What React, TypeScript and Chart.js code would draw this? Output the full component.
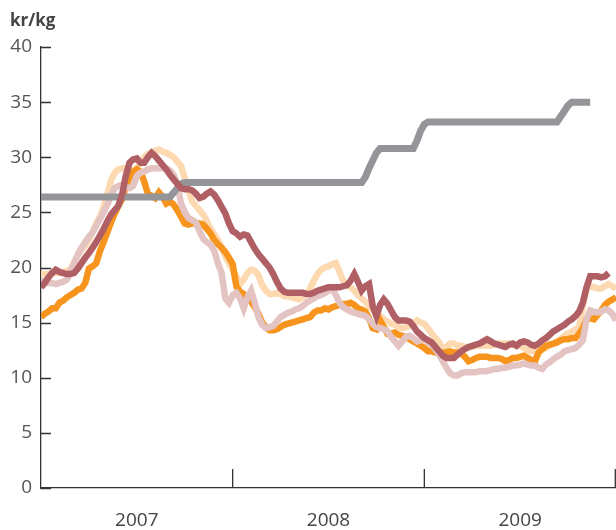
import React, { useEffect, useRef } from "react";
import { Chart, registerables } from "chart.js";

Chart.register(...registerables);

const unitLabel = "kr/kg";
const yearLabels = ["2007", "2008", "2009"];
const yearMidWeeks = [26, 78, 130];
const yearEndWeeks = [52, 104, 156];
const yTickValues = [0, 5, 10, 15, 20, 25, 30, 35, 40];
const weeks = Array.from({ length: 157 }, (_, i) => i);

const darkRed = [
  18.2, 18.6, 19.1, 19.5, 19.8, 19.6, 19.5, 19.4, 19.4, 19.5,
  19.9, 20.4, 20.9, 21.3, 21.8, 22.3, 22.9, 23.5, 24.2, 24.8,
  25.2, 25.6, 26.6, 28.3, 29.5, 29.8, 29.9, 29.5, 29.5, 30.0,
  30.4, 30.1, 29.7, 29.3, 28.9, 28.4, 28.0, 27.6, 27.2, 27.1,
  27.1, 27.0, 26.7, 26.3, 26.4, 26.7, 26.9, 26.6, 26.1, 25.5,
  24.9, 24.0, 23.3, 23.1, 22.8, 23.0, 22.9, 22.3, 21.7, 21.2,
  20.8, 20.4, 20.0, 19.4, 18.7, 18.1, 17.8, 17.7, 17.7, 17.7,
  17.7, 17.7, 17.6, 17.6, 17.7, 17.9, 18.0, 18.1, 18.2, 18.2,
  18.2, 18.2, 18.3, 18.4, 18.8, 19.4, 18.7, 17.9, 18.3, 18.5,
  16.5, 15.6, 16.6, 17.1, 16.7, 16.1, 15.5, 15.2, 15.2, 15.2,
  15.1, 14.7, 14.2, 13.9, 13.6, 13.4, 13.2, 12.8, 12.4, 12.0,
  11.8, 11.8, 11.8, 12.1, 12.4, 12.6, 12.8, 12.9, 13.0, 13.1,
  13.3, 13.5, 13.3, 13.1, 13.0, 12.9, 12.8, 13.0, 13.1, 12.9,
  13.2, 13.3, 13.2, 13.0, 12.9, 13.1, 13.4, 13.6, 13.9, 14.2,
  14.4, 14.6, 14.8, 15.1, 15.3, 15.6, 16.0, 16.8, 18.2, 19.2,
  19.2, 19.2, 19.1, 19.2, 19.5, null, null,
];

const orange = [
  15.5, 15.8, 16.0, 16.3, 16.3, 16.8, 17.0, 17.3, 17.5, 17.7,
  18.0, 18.1, 18.6, 19.9, 20.1, 20.4, 21.5, 22.3, 23.2, 24.1,
  24.9, 25.6, 26.2, 27.3, 28.2, 28.7, 28.9, 28.7, 27.8, 26.7,
  26.5, 26.3, 26.8, 26.4, 25.8, 26.0, 25.7, 25.2, 24.6, 24.0,
  23.9, 24.0, 24.0, 24.0, 23.9, 23.5, 23.1, 22.5, 22.1, 21.8,
  21.4, 20.9, 20.3, 18.3, 17.8, 17.6, 17.2, 16.9, 16.4, 15.8,
  15.0, 14.6, 14.3, 14.3, 14.4, 14.6, 14.8, 14.9, 15.0, 15.1,
  15.2, 15.3, 15.4, 15.5, 15.9, 16.1, 16.1, 16.3, 16.2, 16.4,
  16.5, 16.6, 16.7, 16.7, 16.8, 16.6, 16.3, 16.2, 16.0, 15.4,
  14.5, 14.4, 15.2, 14.6, 14.0, 14.0, 14.1, 13.9, 13.8, 13.7,
  13.5, 13.3, 13.1, 12.9, 12.7, 12.4, 12.4, 12.3, 12.3, 12.3,
  12.3, 12.4, 12.3, 12.3, 12.2, 11.9, 11.5, 11.6, 11.8, 11.9,
  11.9, 11.9, 11.8, 11.8, 11.8, 11.7, 11.5, 11.6, 11.8, 11.8,
  11.9, 12.0, 11.8, 11.6, 11.5, 12.3, 12.6, 12.9, 13.0, 13.1,
  13.2, 13.4, 13.5, 13.5, 13.6, 13.6, 14.0, 14.5, 15.3, 15.4,
  15.3, 15.7, 16.1, 16.6, 16.9, 17.1, 17.3,
];

const peach = [
  19.4, 19.4, 19.4, 19.5, 19.5, 19.5, 19.6, 19.7, 19.8, 20.5,
  21.1, 21.6, 22.0, 22.5, 23.2, 24.0, 24.6, 25.5, 26.7, 27.9,
  28.6, 28.9, 29.0, 29.0, 28.9, 28.8, 29.0, 29.5, 30.0, 30.3,
  30.4, 30.6, 30.7, 30.5, 30.4, 30.2, 30.0, 29.6, 29.2, 28.1,
  27.0, 26.0, 25.6, 25.2, 24.8, 24.2, 23.5, 23.0, 22.5, 21.8,
  21.0, 20.4, 19.8, 19.2, 18.5, 18.9, 19.5, 19.8, 19.7, 19.3,
  18.4, 17.9, 17.6, 17.6, 17.7, 17.6, 17.4, 17.4, 17.3, 17.2,
  17.1, 17.3, 17.6, 18.1, 18.8, 19.4, 19.8, 20.0, 20.1, 20.3,
  20.4, 19.6, 18.8, 18.4, 18.2, 17.9, 17.5, 17.2, 16.9, 16.5,
  16.2, 15.9, 15.6, 15.3, 15.1, 14.9, 14.8, 14.6, 14.5, 14.6,
  14.7, 14.9, 15.2, 15.0, 14.9, 14.5, 14.0, 13.6, 13.2, 12.6,
  12.8, 13.1, 13.1, 12.9, 12.9, 12.8, 12.7, 12.8, 12.9, 12.9,
  12.9, 12.9, 12.9, 13.0, 13.1, 13.1, 13.1, 13.1, 13.0, 12.9,
  12.9, 12.7, 12.5, 12.4, 12.4, 12.5, 12.6, 12.7, 12.9, 13.1,
  13.3, 13.5, 13.8, 14.0, 14.2, 14.4, 14.6, 16.5, 18.0, 18.3,
  18.2, 18.1, 18.1, 18.3, 18.5, 18.3, 18.1,
];

const pink = [
  18.8, 18.7, 18.6, 18.6, 18.5, 18.6, 18.7, 18.9, 19.6, 20.4,
  21.2, 21.8, 22.3, 22.8, 23.2, 23.8, 24.4, 25.0, 25.7, 26.5,
  27.2, 27.4, 27.5, 27.3, 27.2, 27.4, 28.3, 28.6, 28.7, 28.9,
  29.0, 29.0, 29.0, 29.0, 29.0, 28.8, 28.4, 27.5, 25.8, 25.0,
  24.5, 24.3, 24.1, 23.3, 22.6, 22.3, 22.1, 21.5, 20.4, 19.5,
  17.2, 16.8, 17.5, 17.7, 17.2, 16.3, 17.3, 17.9, 16.8, 15.5,
  14.8, 14.5, 14.6, 14.7, 15.1, 15.5, 15.7, 15.9, 16.0, 16.2,
  16.3, 16.5, 16.8, 17.0, 17.2, 17.4, 17.5, 17.7, 17.9, 18.1,
  17.5, 16.8, 16.4, 16.2, 16.0, 15.9, 15.8, 15.7, 15.6, 15.3,
  14.9, 14.6, 14.5, 14.4, 14.2, 13.7, 13.3, 12.9, 13.3, 13.7,
  13.8, 13.6, 13.3, 13.4, 13.5, 13.2, 13.0, 12.6, 12.1, 11.5,
  10.9, 10.4, 10.2, 10.2, 10.4, 10.5, 10.5, 10.5, 10.5, 10.6,
  10.6, 10.6, 10.7, 10.8, 10.8, 10.9, 10.9, 11.0, 11.1, 11.1,
  11.2, 11.3, 11.2, 11.1, 11.1, 10.9, 10.8, 11.2, 11.4, 11.7,
  11.9, 12.1, 12.4, 12.5, 12.6, 12.7, 13.0, 13.4, 15.3, 16.1,
  16.0, 15.9, 16.0, 16.2, 16.1, 15.8, 15.2,
];

const gray = [
  26.4, 26.4, 26.4, 26.4, 26.4, 26.4, 26.4, 26.4, 26.4, 26.4,
  26.4, 26.4, 26.4, 26.4, 26.4, 26.4, 26.4, 26.4, 26.4, 26.4,
  26.4, 26.4, 26.4, 26.4, 26.4, 26.4, 26.4, 26.4, 26.4, 26.4,
  26.4, 26.4, 26.4, 26.4, 26.4, 26.4, 26.8, 27.2, 27.6, 27.7,
  27.7, 27.7, 27.7, 27.7, 27.7, 27.7, 27.7, 27.7, 27.7, 27.7,
  27.7, 27.7, 27.7, 27.7, 27.7, 27.7, 27.7, 27.7, 27.7, 27.7,
  27.7, 27.7, 27.7, 27.7, 27.7, 27.7, 27.7, 27.7, 27.7, 27.7,
  27.7, 27.7, 27.7, 27.7, 27.7, 27.7, 27.7, 27.7, 27.7, 27.7,
  27.7, 27.7, 27.7, 27.7, 27.7, 27.7, 27.7, 27.7, 28.2, 29.0,
  29.7, 30.4, 30.8, 30.8, 30.8, 30.8, 30.8, 30.8, 30.8, 30.8,
  30.8, 30.8, 31.5, 32.4, 33.0, 33.2, 33.2, 33.2, 33.2, 33.2,
  33.2, 33.2, 33.2, 33.2, 33.2, 33.2, 33.2, 33.2, 33.2, 33.2,
  33.2, 33.2, 33.2, 33.2, 33.2, 33.2, 33.2, 33.2, 33.2, 33.2,
  33.2, 33.2, 33.2, 33.2, 33.2, 33.2, 33.2, 33.2, 33.2, 33.2,
  33.2, 33.7, 34.2, 34.7, 35.0, 35.0, 35.0, 35.0, 35.0, 35.0,
  null, null, null, null, null, null, null,
];

const FONT = '"Open Sans", "Noto Sans", sans-serif';

const axisDecor = {
  id: "axisDecor",
  afterDraw(chart: any) {
    const { ctx, chartArea, scales } = chart;
    const x = scales.x;
    const y = scales.y;
    ctx.save();
    ctx.strokeStyle = "#333";
    ctx.lineWidth = 1.3;
    ctx.beginPath();
    yTickValues.forEach((v) => {
      const py = Math.round(y.getPixelForValue(v)) + 0.5;
      ctx.moveTo(chartArea.left, py);
      ctx.lineTo(chartArea.left + 10, py);
    });
    yearEndWeeks.forEach((w) => {
      const px = Math.min(x.getPixelForValue(w), 615.3);
      ctx.moveTo(px, chartArea.bottom);
      ctx.lineTo(px, chartArea.bottom - 19);
    });
    ctx.stroke();
    ctx.fillStyle = "#444";
    ctx.font = `bold 17px ${FONT}`;
    ctx.textBaseline = "middle";
    ctx.textAlign = "left";
    ctx.fillText(unitLabel, 10, 21);
    ctx.restore();
  },
};

export default function App() {
  const ref = useRef<HTMLCanvasElement>(null);
  useEffect(() => {
    if (!ref.current) return;
    const line = (data: (number | null)[], color: string, order: number, width = 6.5) => ({
      data,
      borderColor: color,
      backgroundColor: color,
      borderWidth: width,
      pointRadius: 0,
      tension: 0,
      fill: false,
      order,
      borderJoinStyle: "miter" as const,
    });
    const chart = new Chart(ref.current, {
      type: "line",
      data: {
        labels: weeks,
        datasets: [
          line(darkRed, "#b06064", 1),
          line(gray, "#939598", 2, 7),
          line(pink, "#e3c4c2", 3),
          line(orange, "#f7941d", 4),
          line(peach, "#fdd9b2", 5),
        ],
      },
      plugins: [axisDecor],
      options: {
        animation: false,
        responsive: false,
        devicePixelRatio: 1,
        layout: { padding: { top: 47, right: 0, left: 0, bottom: 0 } },
        plugins: { legend: { display: false }, tooltip: { enabled: false }, title: { display: false } },
        scales: {
          x: {
            type: "linear",
            min: 0,
            max: 156,
            grid: { display: false, drawTicks: false },
            border: { display: true, color: "#333", width: 1.3 },
            afterFit: (s: any) => {
              s.height = 42;
              s.paddingLeft = 0;
              s.paddingRight = 0;
            },
            afterBuildTicks: (s: any) => {
              s.ticks = yearMidWeeks.map((v) => ({ value: v }));
            },
            ticks: {
              autoSkip: false,
              maxRotation: 0,
              padding: 21,
              color: "#444",
              font: { family: FONT, size: 19 },
              callback: (v: any) => {
                const k = yearMidWeeks.indexOf(Number(v));
                return k >= 0 ? yearLabels[k] : "";
              },
            },
          },
          y: {
            min: 0,
            max: 40,
            grid: { display: false, drawTicks: false },
            border: { display: true, color: "#333", width: 1.3 },
            afterFit: (s: any) => {
              s.width = 41;
            },
            ticks: {
              stepSize: 5,
              padding: 9,
              color: "#555",
              font: { family: FONT, size: 19 },
            },
          },
        },
      },
    });
    return () => chart.destroy();
  }, []);
  return (
    <div style={{ position: "absolute", left: 0, top: 0, width: 616, height: 530, background: "#fff" }}>
      <canvas ref={ref} width={616} height={530} style={{ width: 616, height: 530 }} />
    </div>
  );
}
